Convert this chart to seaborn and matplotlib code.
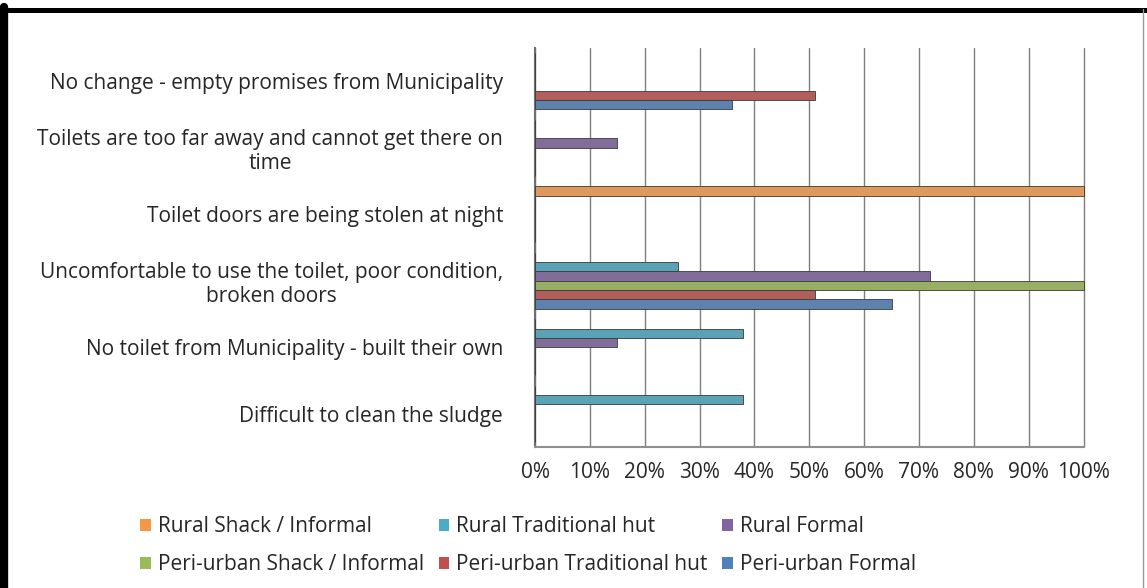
import pandas as pd
import numpy as np
import matplotlib.pyplot as plt
import seaborn as sns
from matplotlib.lines import Line2D
from matplotlib.patches import Patch

# categories, top to bottom as on the chart
reasons = [
    'No change - empty promises from Municipality',
    'Toilets are too far away and cannot get there on\ntime',
    'Toilet doors are being stolen at night',
    'Uncomfortable to use the toilet, poor condition,\nbroken doors',
    'No toilet from Municipality - built their own',
    'Difficult to clean the sludge',
]

groups = ['Rural Shack / Informal', 'Rural Traditional hut', 'Rural Formal',
          'Peri-urban Shack / Informal', 'Peri-urban Traditional hut', 'Peri-urban Formal']

# share of respondents (0-1), one list per group, in the order of reasons
rural_shack = [0, 0, 1.00, 0, 0, 0]
rural_trad = [0, 0, 0, 0.26, 0.38, 0.38]
rural_formal = [0, 0.15, 0, 0.72, 0.15, 0]
peri_shack = [0, 0, 0, 1.00, 0, 0]
peri_trad = [0.51, 0, 0, 0.51, 0, 0]
peri_formal = [0.36, 0, 0, 0.65, 0, 0]

colors = ['#F79646', '#4BACC6', '#8064A2', '#9BBB59', '#C0504D', '#4F81BD']

series = [rural_shack, rural_trad, rural_formal, peri_shack, peri_trad, peri_formal]
rows = []
for g, vals in zip(groups, series):
    for r, v in zip(reasons, vals):
        rows.append({'reason': r, 'group': g, 'value': v})
df = pd.DataFrame(rows)

sns.set_style('white')
plt.rcParams['font.family'] = ['Open Sans', 'DejaVu Sans']

fig = plt.figure(figsize=(11.47, 5.88), dpi=100)
ax = fig.add_axes([535 / 1147, 1 - 447 / 588, (1100 - 535) / 1147, (447 - 48) / 588])

sns.barplot(data=df, y='reason', x='value', hue='group', order=reasons,
            hue_order=groups, palette=colors, orient='h', width=0.84, gap=0,
            edgecolor='#3a3a3a', linewidth=0.6, legend=False, ax=ax, zorder=3)

ax.set_xlim(0, 1.03)
ax.set_ylim(len(reasons) - 0.5, -0.5)
ticks = np.arange(0, 1.01, 0.1)
ax.set_xticks(ticks)
ax.set_xticklabels([f'{int(round(t * 100))}%' for t in ticks], fontsize=15)
ax.set_xlabel('')
ax.set_ylabel('')
ax.grid(axis='x', color='#7f7f7f', linewidth=1, zorder=0)
ax.grid(axis='y', visible=False)

ax.set_yticks(range(len(reasons)))
ax.set_yticklabels(reasons, fontsize=15, multialignment='center', linespacing=1.15)
ax.tick_params(axis='y', which='major', length=0, pad=23)
ax.set_yticks(np.arange(-0.5, len(reasons), 1), minor=True)
ax.tick_params(axis='y', which='minor', length=7, color='#7f7f7f', direction='out')
ax.tick_params(axis='x', which='major', length=5, color='#7f7f7f', direction='out', pad=6)

for s in ['top', 'right']:
    ax.spines[s].set_visible(False)
ax.spines['left'].set_color('#6f6f6f')
ax.spines['left'].set_linewidth(1.5)
ax.spines['bottom'].set_color('#8f8f8f')
ax.spines['bottom'].set_linewidth(1.5)
ax.spines['bottom'].set_bounds(0, 1.0)

# legend filled row by row like the original (matplotlib fills by column)
order = [0, 3, 1, 4, 2, 5]
handles = [Patch(facecolor=colors[i], edgecolor='none') for i in order]
labels = [groups[i] for i in order]
fig.legend(handles, labels, loc='center left', bbox_to_anchor=(0.106, 0.072),
           ncol=3, frameon=False, handlelength=0.5, handleheight=0.5,
           handletextpad=0.35, columnspacing=0.7, labelspacing=0.8,
           prop={'family': ['Open Sans', 'DejaVu Sans'], 'size': 15})

# outer frame of the scanned chart
fig.add_artist(Line2D([4 / 1147, 4 / 1147], [0, 1 - 7 / 588], transform=fig.transFigure,
                      color='black', linewidth=6))
fig.add_artist(Line2D([0, 1], [1 - 9.5 / 588, 1 - 9.5 / 588], transform=fig.transFigure,
                      color='black', linewidth=3.6))
fig.add_artist(Line2D([1143 / 1147, 1143 / 1147], [0, 1 - 9 / 588], transform=fig.transFigure,
                      color='#9a9a9a', linewidth=1))

fig.savefig('out.png', dpi=100)
plt.close()
